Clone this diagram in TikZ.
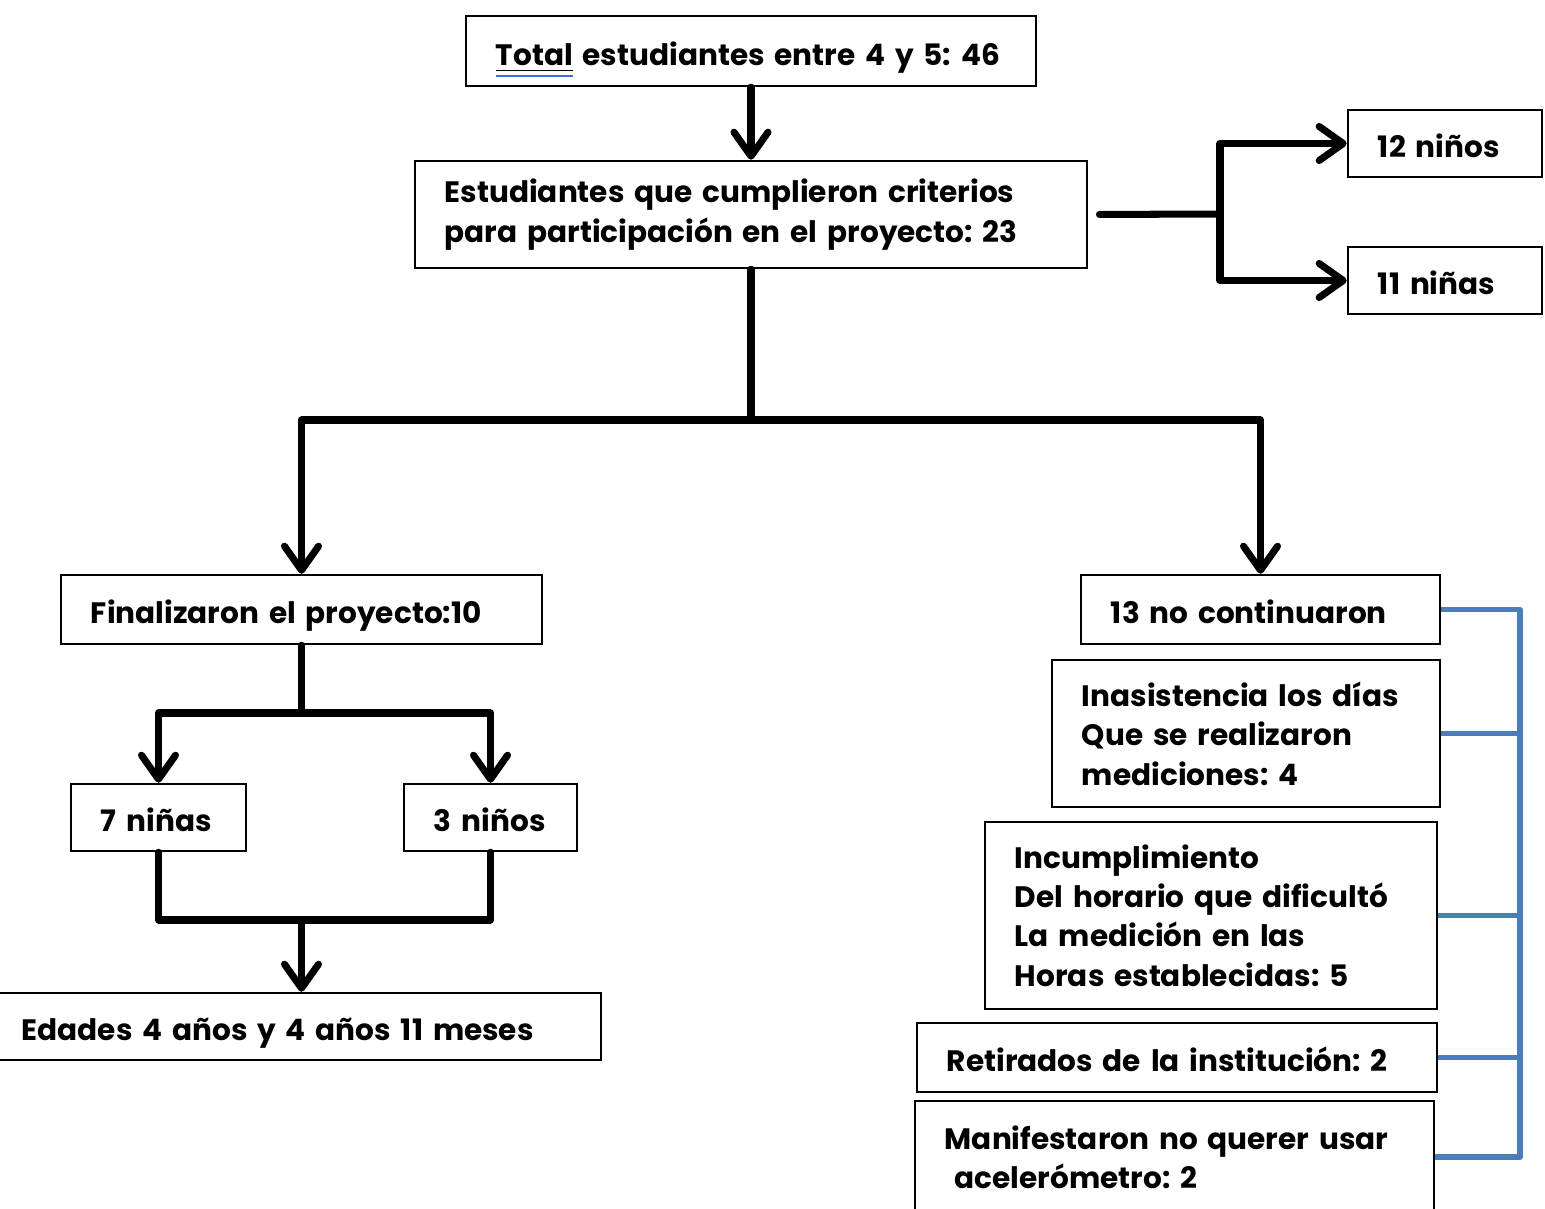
\documentclass[tikz,border=0pt]{standalone}
\usepackage{fontspec}
\setmainfont{Poppins}
\usetikzlibrary{positioning}
\usetikzlibrary{arrows.meta}
\usetikzlibrary{calc}
\definecolor{bracketblue}{RGB}{74,126,187}
\definecolor{spellblue}{RGB}{60,110,220}
\newcommand{\spellmark}[1]{\setbox0\hbox{#1}\underline{#1}\llap{\color{spellblue}\rule[-3.4pt]{\wd0}{0.6pt}}}
\tikzset{box/.style={draw,line width=0.7pt,align=left,inner xsep=0.3cm,inner ysep=0pt,font=\frenchspacing\bfseries\fontsize{8.4}{11.2}\selectfont}}
\tikzset{oneline/.style={box,text height=1.5ex,text depth=0pt}}
\tikzset{conn/.style={line width=2pt,line cap=round,line join=round}}
\tikzset{arr/.style={conn,-{Straight Barb[length=0.24cm,width=0.34cm,line cap=round,line join=round]}}}
\tikzset{brace/.style={bracketblue,line width=1.5pt,line join=round}}

\begin{document}
\begin{tikzpicture}[x=0.01cm,y=-0.01cm]
\useasboundingbox (0,0) rectangle (1545,1209);
\clip (0,0) rectangle (1545,1209);

% top of the flow
\node[oneline,text width=5.10cm,minimum height=0.70cm] (total) at (751,51) {\spellmark{Total} estudiantes entre 4 y 5: 46};
\node[box,text width=6.12cm,minimum height=1.07cm] (crit) at (751,214.5) {Estudiantes que cumplieron criterios\\para participación en el proyecto: 23};
\node[oneline,text width=1.34cm,minimum height=0.67cm] (n12) at (1445,143.5) {12 niños};
\node[oneline,text width=1.34cm,minimum height=0.67cm] (n11) at (1445,280.5) {11 niñas};

% left branch
\node[oneline,text width=4.21cm,minimum height=0.69cm] (fin) at (301.5,609.5) {Finalizaron el proyecto:10};
\node[oneline,text width=1.15cm,minimum height=0.67cm] (n7) at (158.5,817.5) {7 niñas};
\node[oneline,text width=1.13cm,minimum height=0.67cm] (n3) at (490.5,817.5) {3 niños};
\node[oneline,text width=5.49cm,minimum height=0.67cm] (edades) at (296.5,1026.5) {Edades 4 años y 4 años 11 meses};

% right branch
\node[oneline,text width=2.99cm,minimum height=0.69cm] (nocont) at (1260.5,609.5) {13 no continuaron};
\node[box,text width=3.28cm,minimum height=1.47cm] (inas) at (1246,733.5) {Inasistencia los días\\Que se realizaron\\mediciones: 4};
\node[box,text width=3.92cm,minimum height=1.87cm] (incum) at (1211,915.5) {Incumplimiento\\Del horario que dificultó\\La medición en las\\Horas establecidas: 5};
\node[oneline,text width=4.60cm,minimum height=0.69cm] (retir) at (1177,1057.5) {Retirados de la institución: 2};
\node[box,text width=4.59cm,minimum height=1.12cm] (manif) at (1174.5,1157) {Manifestaron no querer usar\\\ acelerómetro: 2};

\coordinate (split) at (1220,214);
\coordinate (hub) at (751,420);
\coordinate (fsplit) at (301.5,713);
\coordinate (fjoin) at (301.5,920);
\coordinate (brk) at (1520,0);

\draw[arr] (total) -- (crit);
\draw[conn,shorten <=0.11cm] (crit.east) -- (split);
\draw[arr] (split) |- (n12);
\draw[arr] (split) |- (n11);

\draw[conn] (crit) -- (hub);
\draw[arr] (hub) -| (fin);
\draw[arr] (hub) -| (nocont);

\draw[conn] (fin) -- (fsplit);
\draw[arr] (fsplit) -| (n7);
\draw[arr] (fsplit) -| (n3);
\draw[conn] (n7) |- (fjoin) -| (n3);
\draw[arr] (fjoin) -- (fjoin |- edades.north);

% reasons bracket
\draw[brace] (nocont.east) -| (manif.east -| brk) -- (manif.east);
\foreach \b in {inas,incum,retir}
  \draw[brace] (\b.east) -- (\b.east -| brk);
\end{tikzpicture}
\end{document}
